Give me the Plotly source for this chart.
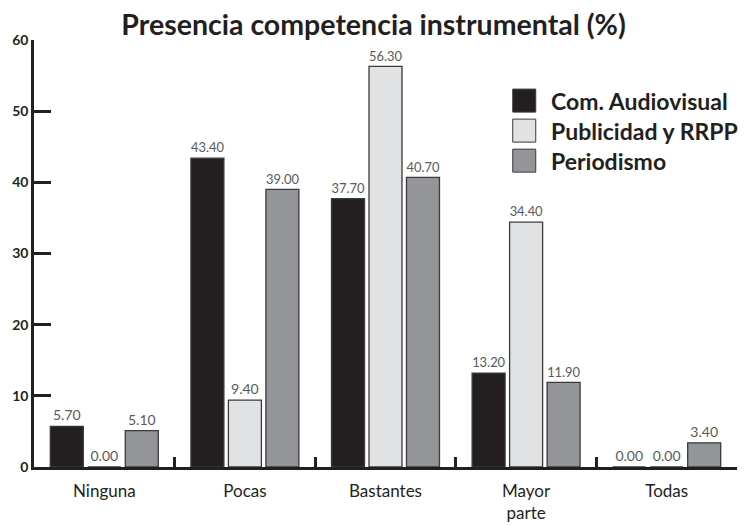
import plotly.graph_objects as go

categories = ["Ninguna", "Pocas", "Bastantes", "Mayor<br>parte", "Todas"]
series_names = ["Com. Audiovisual", "Publicidad y RRPP", "Periodismo"]
com_audiovisual = [5.70, 43.40, 37.70, 13.20, 0.00]
publicidad_rrpp = [0.00, 9.40, 56.30, 34.40, 0.00]
periodismo = [5.10, 39.00, 40.70, 11.90, 3.40]
y_ticks = [0, 10, 20, 30, 40, 50, 60]

colors = ["#231f20", "#e1e2e4", "#939598"]
series = [com_audiovisual, publicidad_rrpp, periodismo]
FONT = "Lato"

fig = go.Figure()
for name, vals, col in zip(series_names, series, colors):
    fig.add_trace(go.Bar(
        x=categories, y=vals, name=name, showlegend=False,
        marker=dict(color=col, line=dict(color="#3a3a3a", width=1.3)),
        text=vals, texttemplate="%{y:.2f}", textposition="outside",
        textfont=dict(family=FONT, size=14, color="#58595b"),
        cliponaxis=False,
    ))

# custom legend: large squares and bold labels
leg_x = 0.681
leg_y_top = 0.885
leg_step = 0.0703
for i, (name, col) in enumerate(zip(series_names, colors)):
    yc = leg_y_top - i * leg_step
    fig.add_shape(
        type="rect", xref="paper", yref="paper",
        xsizemode="pixel", ysizemode="pixel",
        xanchor=leg_x, yanchor=yc, x0=0, x1=23, y0=0, y1=-23,
        fillcolor=col, line=dict(color="#3a3a3a", width=1),
    )
    fig.add_annotation(
        xref="paper", yref="paper", x=leg_x + 0.0515, y=yc - 0.027,
        xanchor="left", yanchor="middle", showarrow=False,
        text="<b>%s</b>" % name,
        font=dict(family=FONT, size=23, color="#231f20"),
    )

# the page body has an 8px default margin, so the figure is sized to fit
fig.update_layout(
    width=748, height=517,
    margin=dict(l=26, r=19, t=32, b=58, autoexpand=False),
    paper_bgcolor="white", plot_bgcolor="white",
    barmode="group", bargap=0.2, bargroupgap=0.12,
    showlegend=False,
    title=dict(text="<b>Presencia competencia instrumental (%)</b>",
               x=0.4887, xanchor="center", y=0.986, yanchor="top",
               font=dict(family=FONT, size=28.5, color="#231f20")),
    font=dict(family=FONT, color="#231f20"),
)
fig.update_xaxes(
    type="category", showline=True, linecolor="#231f20", linewidth=2.5,
    ticks="inside", tickson="boundaries", ticklen=10, tickwidth=2.5,
    tickcolor="#231f20", showgrid=False, automargin=False,
    ticklabelstandoff=7,
    tickfont=dict(family=FONT, size=17, color="#231f20"),
)
fig.update_yaxes(
    range=[0, 60], tickvals=y_ticks, showline=True, linecolor="#231f20",
    linewidth=2.5, ticks="inside", ticklen=17, tickwidth=2.5,
    tickcolor="#231f20", showgrid=False, zeroline=False, automargin=False,
    tickfont=dict(family=FONT, size=14, color="#231f20", weight="bold"),
)

fig.write_html("out.html")
